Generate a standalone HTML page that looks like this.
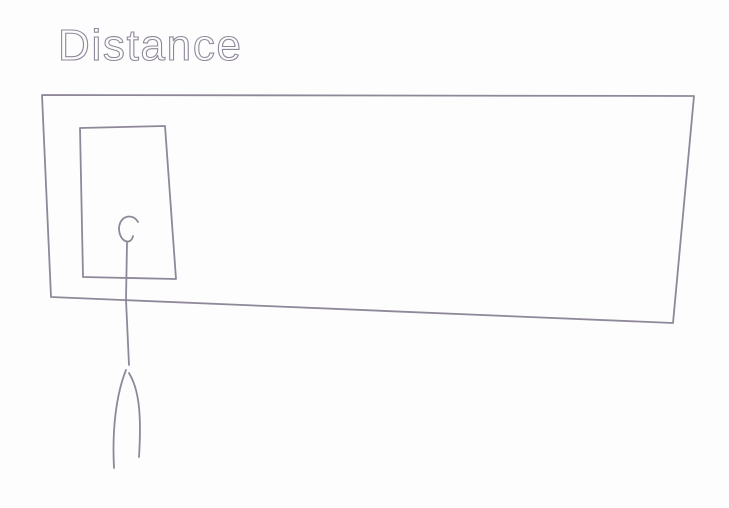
<!DOCTYPE html>
<html><head><meta charset="utf-8"><style>
html,body{margin:0;padding:0;background:#fdfdfd;}
svg{display:block;}
</style></head><body>
<svg width="729" height="508" viewBox="0 0 729 508">
<rect x="0" y="0" width="729" height="508" fill="#fdfdfd"/>
<text x="58" y="60" font-family="Liberation Sans, sans-serif" font-size="44" fill="none" stroke="#8f8899" stroke-width="1.1" letter-spacing="2" textLength="185">Distance</text>
<g fill="none" stroke="#8f8899" stroke-width="1.8" stroke-linecap="round" stroke-linejoin="round">
<path d="M42,95 L694,96 L673,323 L51,297 Z"/>
<path d="M80,128 L165,126 L176,279 L83,277 Z"/>
<path d="M138,222 C133,213 120,215 119,228 C119,242 131,246 133,236"/>
<path d="M127,243 L126,300 L129,365"/>
<path d="M126,370 C116,395 112,430 114,468"/>
<path d="M129,373 C138,388 142,410 139,457"/>
</g>
</svg>
</body></html>
